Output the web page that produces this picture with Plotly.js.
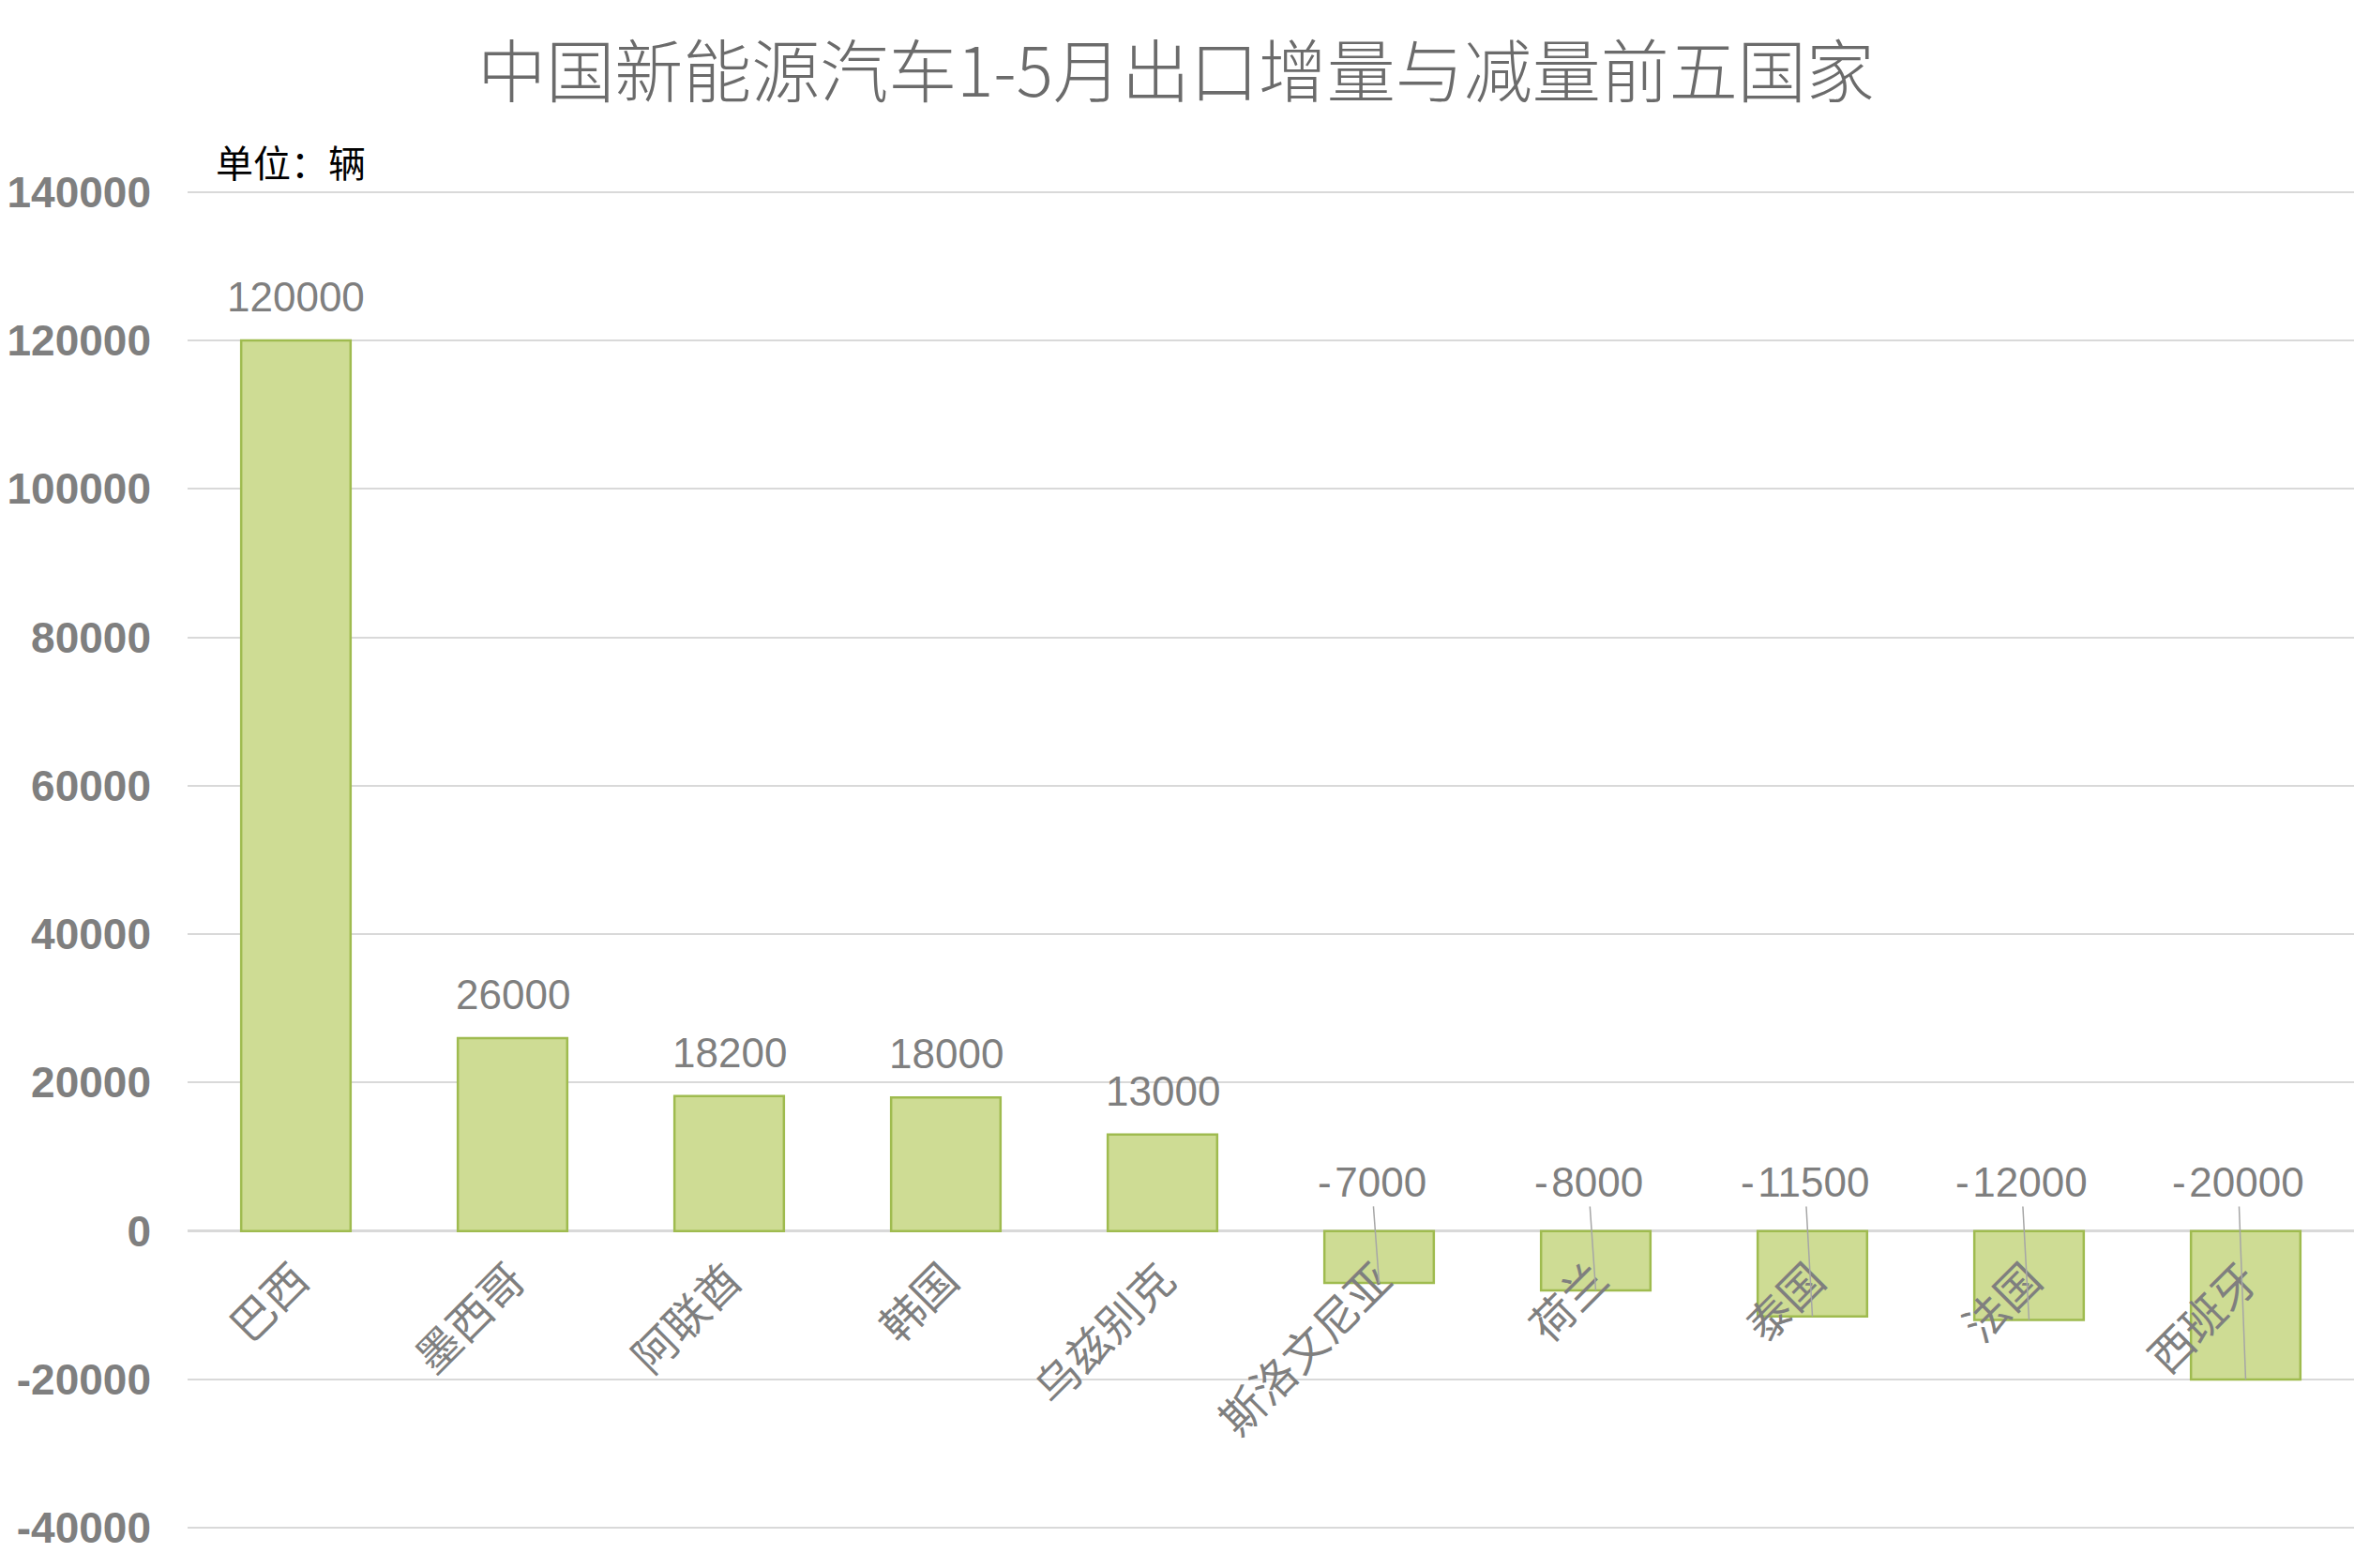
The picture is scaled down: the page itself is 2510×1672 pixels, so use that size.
<!DOCTYPE html>
<html>
<head>
<meta charset="utf-8">
<script src="https://cdn.plot.ly/plotly-3.0.1.min.js"></script>
<style>
  html, body { margin: 0; padding: 0; background: #fff; }
  #chart { width: 2510px; height: 1672px; }
</style>
</head>
<body>
<div id="chart"></div>
<script>
// Countries and the change in exported NEVs (Jan-May), units: vehicles
const countries = ["巴西", "墨西哥", "阿联酋", "韩国", "乌兹别克", "斯洛文尼亚", "荷兰", "泰国", "法国", "西班牙"];
const changes = [120000, 26000, 18200, 18000, 13000, -7000, -8000, -11500, -12000, -20000];
const yTicks = [-40000, -20000, 0, 20000, 40000, 60000, 80000, 100000, 120000, 140000];

// padded range so the outer gridlines are still drawn
const yMin = -42000, yMax = 142000;
const negLabelY = 6600;   // where the labels of the negative bars sit (with leader lines)
const font = "Liberation Sans, Arial, Noto Sans CJK SC, sans-serif";
const grey = "#7f7f7f";

const data = [{
  type: "bar",
  x: countries,
  y: changes,
  marker: {
    color: "#cedc94",
    line: { color: "#9fbb4f", width: 2.5 }
  },
  hoverinfo: "x+y"
}];

// value labels: above positive bars, leader lines for negative ones
const annotations = changes.map((v, i) => {
  if (v >= 0) {
    return {
      x: countries[i], y: v, xref: "x", yref: "y",
      text: String(v), showarrow: false,
      yanchor: "bottom", yshift: 20,
      font: { family: font, size: 44, color: grey }
    };
  }
  return {
    x: countries[i], y: v, xref: "x", yref: "y",
    text: String(v).replace("-", "-\u200a"),
    showarrow: true, arrowhead: 0, arrowwidth: 1.5, arrowcolor: "#a6a6a6",
    axref: "pixel", ax: -8, ayref: "y", ay: negLabelY,
    font: { family: font, size: 44, color: grey }
  };
});

// unit note, just above the top gridline
annotations.push({
  xref: "paper", yref: "paper", x: 0.012, y: 1.012,
  xanchor: "left", yanchor: "middle",
  text: "单位：辆", showarrow: false,
  font: { family: "Noto Sans CJK SC, sans-serif", size: 40, color: "#000" }
});

const layout = {
  width: 2510,
  height: 1672,
  paper_bgcolor: "#fff",
  plot_bgcolor: "#fff",
  margin: { l: 200, r: 0, t: 189, b: 27 },
  title: {
    text: "中国新能源汽车1-5月出口增量与减量前五国家",
    x: 1254 / 2510, xref: "container", xanchor: "center",
    y: 1 - 77 / 1672, yref: "container", yanchor: "middle",
    font: { family: "Noto Sans CJK SC, sans-serif", size: 73, color: "#6b6b6b", weight: 300 }
  },
  bargap: 0.495,
  showlegend: false,
  xaxis: {
    type: "category",
    anchor: "free",
    position: (0 - yMin) / (yMax - yMin),
    showgrid: false, zeroline: false, showline: false,
    ticks: "",
    tickangle: -45,
    ticklabelstandoff: 14,
    tickfont: { family: "Noto Sans CJK SC, sans-serif", size: 47, color: grey }
  },
  yaxis: {
    range: [yMin, yMax],
    tickvals: yTicks,
    ticktext: yTicks.map(String),
    showgrid: true, gridcolor: "#d9d9d9", gridwidth: 2,
    zeroline: true, zerolinecolor: "#d9d9d9", zerolinewidth: 2.5,
    showline: false, ticks: "",
    ticklabelstandoff: 38,
    tickfont: { family: "Liberation Sans, Arial, sans-serif", size: 46, color: grey, weight: "bold" }
  },
  annotations: annotations
};

Plotly.newPlot("chart", data, layout, { displayModeBar: false, staticPlot: true });
</script>
</body>
</html>
